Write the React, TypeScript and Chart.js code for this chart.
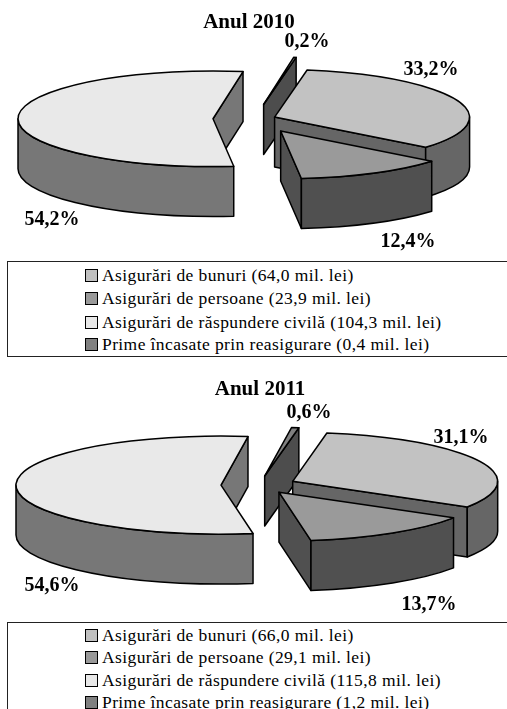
import React, { useEffect, useRef } from "react";
import { Chart, registerables } from "chart.js";

Chart.register(...registerables);

const categories = [
  "Asigurări de bunuri",
  "Asigurări de persoane",
  "Asigurări de răspundere civilă",
  "Prime încasate prin reasigurare",
];
const values2010 = [64.0, 23.9, 104.3, 0.4];
const values2011 = [66.0, 29.1, 115.8, 1.2];
const percents2010 = ["33,2%", "12,4%", "54,2%", "0,2%"];
const percents2011 = ["31,1%", "13,7%", "54,6%", "0,6%"];
const topColors = ["#c2c2c2", "#9a9a9a", "#e9e9e9", "#808080"];
const sideColors = ["#666666", "#505050", "#777777", "#4d4d4d"];
const swatchColors = ["#c0c0c0", "#999999", "#e8e8e8", "#808080"];
const drawOrder = [3, 2, 0, 1];
const FONT = '"Liberation Serif", "Times New Roman", serif';

const pie3d = {
  id: "pie3d",
  beforeDatasetsDraw(chart: any, _args: any, o: any) {
    const ctx = chart.ctx;
    const arcs = chart.getDatasetMeta(0).data;
    const s = o.squash;
    const depth = o.depth;
    ctx.save();
    ctx.strokeStyle = "#000";
    ctx.lineWidth = 1.5;
    ctx.lineJoin = "round";
    for (const i of drawOrder) {
      const el = arcs[i];
      const a0 = el.startAngle;
      const a1 = el.endAngle;
      const R = el.outerRadius;
      const Ry = R * s;
      const mid = (a0 + a1) / 2;
      const off = el.options.offset;
      const x = o.cx + Math.cos(mid) * off;
      const y = o.cy + Math.sin(mid) * off * s;
      const paint = (fill: string) => {
        ctx.fillStyle = fill;
        ctx.fill();
        ctx.stroke();
      };
      const face = (a: number) => {
        const px = x + R * Math.cos(a);
        const py = y + Ry * Math.sin(a);
        ctx.beginPath();
        ctx.moveTo(x, y);
        ctx.lineTo(px, py);
        ctx.lineTo(px, py + depth);
        ctx.lineTo(x, y + depth);
        ctx.closePath();
        paint(sideColors[i]);
      };
      if (Math.cos(a0) < 0) face(a0);
      if (Math.cos(a1) > 0) face(a1);
      const lo = Math.max(a0, 0);
      const hi = Math.min(a1, Math.PI);
      if (lo < hi) {
        ctx.beginPath();
        ctx.ellipse(x, y, R, Ry, 0, lo, hi);
        ctx.lineTo(x + R * Math.cos(hi), y + Ry * Math.sin(hi) + depth);
        ctx.ellipse(x, y + depth, R, Ry, 0, hi, lo, true);
        ctx.closePath();
        paint(sideColors[i]);
      }
      ctx.beginPath();
      ctx.moveTo(x, y);
      ctx.ellipse(x, y, R, Ry, 0, a0, a1);
      ctx.closePath();
      paint(topColors[i]);
    }
    ctx.fillStyle = "#000";
    ctx.font = `bold ${o.labelSize}px ${FONT}`;
    ctx.textAlign = "center";
    ctx.textBaseline = "middle";
    o.labels.forEach((t: string, i: number) => {
      ctx.fillText(t, o.labelPos[i][0], o.labelPos[i][1]);
    });
    ctx.restore();
    return false;
  },
};

function Pie(props: any) {
  const ref = useRef<HTMLCanvasElement>(null);
  const { title, values, labels, offsets, cx, cy, radius, squash, depth, labelPos, padLeft, padRight, titleTop, top, height } = props;
  useEffect(() => {
    const chart = new Chart(ref.current as HTMLCanvasElement, {
      type: "pie",
      data: {
        labels: categories,
        datasets: [{ data: values, backgroundColor: topColors, borderColor: "#000", offset: offsets }],
      },
      plugins: [pie3d],
      options: {
        responsive: false,
        animation: false,
        rotation: 9.6,
        radius,
        layout: { padding: { left: padLeft, right: padRight, top: 0, bottom: 0 } },
        plugins: {
          legend: { display: false },
          tooltip: { enabled: false },
          title: {
            display: true,
            text: title,
            color: "#000",
            font: { family: FONT, size: 21, weight: "bold" },
            padding: { top: titleTop, bottom: 0 },
          },
          pie3d: { cx, cy, squash, depth, labels, labelPos, labelSize: 20 },
        },
      } as any,
    });
    return () => chart.destroy();
  }, []);
  return (
    <canvas
      ref={ref}
      width={507}
      height={height}
      style={{ position: "absolute", left: 0, top, width: 507, height }}
    />
  );
}

function Legend({ values, top, height, rowTops }: any) {
  return (
    <div
      style={{
        position: "absolute",
        left: 7,
        top,
        width: 510,
        height,
        border: "1px solid #222",
        boxSizing: "border-box",
        fontFamily: FONT,
        fontSize: 17.5,
        letterSpacing: 0.4,
        color: "#000",
      }}
    >
      {categories.map((c, i) => (
        <div
          key={c}
          style={{
            position: "absolute",
            left: 77,
            top: rowTops[i],
            height: 20,
            lineHeight: "20px",
            whiteSpace: "nowrap",
            display: "flex",
            alignItems: "center",
          }}
        >
          <span
            style={{
              display: "inline-block",
              width: 13,
              height: 13,
              boxSizing: "border-box",
              border: "1.5px solid #000",
              background: swatchColors[i],
              marginRight: 4,
            }}
          />
          {`${c} (${values[i].toFixed(1).replace(".", ",")} mil. lei)`}
        </div>
      ))}
    </div>
  );
}

export default function App() {
  return (
    <div style={{ position: "absolute", left: 0, top: 0, width: 507, height: 709, overflow: "hidden", background: "#fff" }}>
      <Pie
        title="Anul 2010"
        values={values2010}
        labels={percents2010}
        offsets={[22, 56, 41, 60]}
        cx={254}
        cy={119}
        radius={195}
        squash={0.245}
        depth={50}
        labelPos={[[431, 70], [408, 242], [52, 220], [307, 42]]}
        padLeft={0}
        padRight={9}
        titleTop={10}
        top={0}
        height={258}
      />
      <Legend values={values2010} top={261} height={96} rowTops={[3, 26, 50, 72]} />
      <Pie
        title="Anul 2011"
        values={values2011}
        labels={percents2011}
        offsets={[37, 36, 38, 38]}
        cx={259}
        cy={115}
        radius={205}
        squash={0.239}
        depth={50}
        labelPos={[[461, 68], [429, 235], [52, 216], [309, 43]]}
        padLeft={13}
        padRight={0}
        titleTop={7}
        top={370}
        height={250}
      />
      <Legend values={values2011} top={622} height={110} rowTops={[2, 24, 47, 69]} />
    </div>
  );
}
